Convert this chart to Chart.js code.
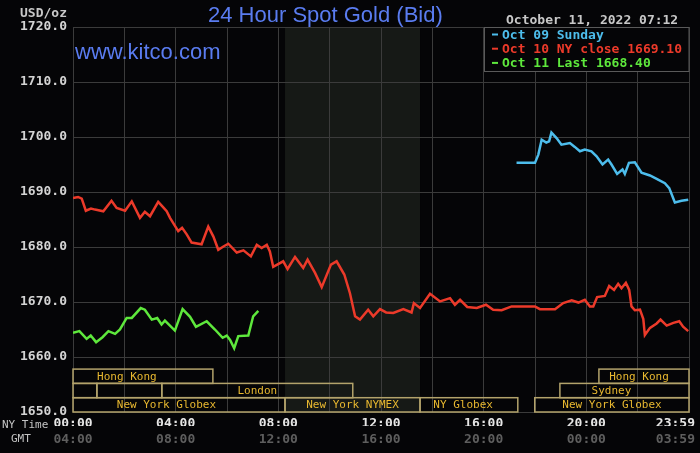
<!DOCTYPE html>
<html>
<head>
<meta charset="utf-8">
<title>24 Hour Spot Gold (Bid)</title>
<script src="https://cdn.jsdelivr.net/npm/chart.js@4.4.0/dist/chart.umd.min.js"></script>
<style>
  html, body { margin: 0; padding: 0; background: #050507; }
  #goldChart { display: block; }
</style>
</head>
<body>
<canvas id="goldChart" width="700" height="453"></canvas>
<script>
// Oct 09 Sunday (NY hours / bid)
const sundayHours = [17.28, 18.0, 18.13, 18.26, 18.44, 18.55, 18.64, 18.84, 19.03, 19.36, 19.55, 19.75, 19.94, 20.2, 20.4, 20.63, 20.85, 20.98, 21.2, 21.41, 21.5, 21.66, 21.89, 22.15, 22.48, 22.74, 23.06, 23.23, 23.45, 23.71, 23.97];
const sundayBids = [1695.3, 1695.3, 1696.8, 1699.5, 1699.0, 1699.2, 1700.8, 1699.8, 1698.6, 1698.9, 1698.2, 1697.4, 1697.7, 1697.4, 1696.5, 1695.0, 1695.9, 1695.0, 1693.3, 1694.1, 1693.3, 1695.3, 1695.4, 1693.5, 1693.0, 1692.4, 1691.6, 1690.7, 1688.1, 1688.4, 1688.6];

// Oct 10 (NY close 1669.10)
const mondayHours = [0, 0.2, 0.34, 0.5, 0.7, 0.86, 1.18, 1.5, 1.7, 2.03, 2.29, 2.61, 2.8, 3.0, 3.32, 3.5, 3.65, 3.78, 4.1, 4.25, 4.43, 4.62, 5.01, 5.27, 5.47, 5.66, 5.86, 6.05, 6.38, 6.64, 6.93, 7.16, 7.35, 7.55, 7.67, 7.8, 8.19, 8.36, 8.65, 8.97, 9.14, 9.43, 9.69, 10.05, 10.27, 10.57, 10.79, 10.99, 11.18, 11.5, 11.7, 11.96, 12.2, 12.48, 12.87, 13.19, 13.28, 13.52, 13.91, 14.3, 14.69, 14.88, 15.08, 15.36, 15.73, 16.09, 16.37, 16.7, 17.09, 18.0, 18.19, 18.78, 19.1, 19.43, 19.69, 19.94, 20.14, 20.27, 20.42, 20.72, 20.89, 21.08, 21.24, 21.37, 21.54, 21.67, 21.76, 21.89, 22.09, 22.22, 22.28, 22.48, 22.74, 22.89, 23.13, 23.39, 23.62, 23.77, 23.97];
const mondayBids = [1688.9, 1689.1, 1688.8, 1686.6, 1687.0, 1686.8, 1686.5, 1688.4, 1687.1, 1686.6, 1688.3, 1685.3, 1686.4, 1685.6, 1688.2, 1687.3, 1686.5, 1685.3, 1682.9, 1683.5, 1682.3, 1680.8, 1680.5, 1683.7, 1681.9, 1679.5, 1680.1, 1680.6, 1679.0, 1679.4, 1678.3, 1680.4, 1679.8, 1680.4, 1679.2, 1676.4, 1677.4, 1676.0, 1678.2, 1676.2, 1677.7, 1675.3, 1672.7, 1676.8, 1677.4, 1675.0, 1671.6, 1667.4, 1666.8, 1668.6, 1667.4, 1668.7, 1668.1, 1668.0, 1668.7, 1668.1, 1669.8, 1668.9, 1671.5, 1670.1, 1670.7, 1669.5, 1670.4, 1669.1, 1668.9, 1669.5, 1668.6, 1668.5, 1669.2, 1669.2, 1668.7, 1668.7, 1669.8, 1670.3, 1669.9, 1670.4, 1669.2, 1669.2, 1670.9, 1671.1, 1672.9, 1672.2, 1673.3, 1672.5, 1673.5, 1672.2, 1669.2, 1668.5, 1668.6, 1666.9, 1664.0, 1665.3, 1666.1, 1666.8, 1665.7, 1666.2, 1666.5, 1665.5, 1664.7];

// Oct 11 (last 1668.40)
const todayHours = [0, 0.25, 0.53, 0.69, 0.9, 1.15, 1.38, 1.64, 1.83, 2.09, 2.29, 2.64, 2.8, 3.07, 3.28, 3.45, 3.58, 3.97, 4.27, 4.56, 4.79, 5.21, 5.53, 5.83, 5.99, 6.12, 6.28, 6.44, 6.83, 7.02, 7.22];
const todayBids = [1664.4, 1664.7, 1663.3, 1663.9, 1662.7, 1663.6, 1664.7, 1664.2, 1665.0, 1667.1, 1667.1, 1668.9, 1668.6, 1666.8, 1667.1, 1665.9, 1666.6, 1664.8, 1668.7, 1667.3, 1665.5, 1666.5, 1665.0, 1663.5, 1663.9, 1663.1, 1661.6, 1663.8, 1663.9, 1667.4, 1668.4];

// Axis ticks
const gridHours = [0, 2, 4, 6, 8, 10, 12, 14, 16, 18, 20, 22, 24];
const priceTicks = [1650, 1660, 1670, 1680, 1690, 1700, 1710, 1720];
const labelHours = [0, 4, 8, 12, 16, 20, 23.47]; // last label pulled in so it fits the frame
const nyTimeLabels = ["00:00", "04:00", "08:00", "12:00", "16:00", "20:00", "23:59"];
const gmtLabels = ["04:00", "08:00", "12:00", "16:00", "20:00", "00:00", "03:59"];

// Trading sessions (NY hours), row 0 is the bottom strip
const sessionNames = ["Hong Kong", "", "", "London", "New York Globex", "New York NYMEX", "NY Globex", "New York Globex", "Sydney", "Hong Kong"];
const sessionStart = [0, 0, 0.93, 3.46, 0, 8.26, 13.52, 17.99, 18.97, 20.49];
const sessionEnd = [5.45, 0.93, 3.46, 10.9, 8.26, 13.52, 17.33, 24, 24, 24];
const sessionRow = [2, 1, 1, 1, 0, 0, 0, 0, 1, 2];
const sessionLabelAt = [2.1, null, null, 7.18, 3.64, 10.89, 15.2, 21.0, 20.98, 22.05];
const pitHours = [8.26, 13.52];

const legendLabels = ["Oct 09 Sunday", "Oct 10 NY close 1669.10", "Oct 11 Last 1668.40"];
const seriesColors = ["#4dbdec", "#ec3a2a", "#5ee83c"];

const MONO = "'DejaVu Sans Mono', monospace";
const GRID = "#3b3b3b";
const BG = "#050507";

function toPoints(hours, bids) {
  return hours.map((h, i) => ({ x: h, y: bids[i] }));
}

function fixedTicks(values) {
  return (scale) => {
    scale.ticks = values.map((v) => ({ value: v }));
  };
}

// Background, pit shading, sessions, legend and free texts
const goldDecor = {
  id: "goldDecor",
  beforeDraw(chart) {
    const { ctx, chartArea: area, scales } = chart;
    ctx.save();
    ctx.fillStyle = BG;
    ctx.fillRect(0, 0, chart.width, chart.height);
    const x0 = scales.x.getPixelForValue(pitHours[0]);
    const x1 = scales.x.getPixelForValue(pitHours[1]);
    ctx.fillStyle = "#161916";
    ctx.fillRect(x0, area.top, x1 - x0, area.bottom - area.top);
    ctx.restore();
  },
  afterDraw(chart) {
    const { ctx, chartArea: area, scales } = chart;
    ctx.save();

    // Session strips
    const rowH = 14.3;
    ctx.strokeStyle = "#b3a36b";
    ctx.lineWidth = 1.5;
    ctx.font = "11px " + MONO;
    ctx.fillStyle = "#e8b830";
    ctx.textAlign = "center";
    ctx.textBaseline = "middle";
    sessionNames.forEach((name, i) => {
      const left = scales.x.getPixelForValue(sessionStart[i]);
      const right = scales.x.getPixelForValue(sessionEnd[i]);
      const bottom = area.bottom - sessionRow[i] * rowH;
      ctx.strokeRect(left, bottom - rowH, right - left, rowH);
      if (name) {
        ctx.fillText(name, scales.x.getPixelForValue(sessionLabelAt[i]), bottom - rowH / 2 + 0.5);
      }
    });

    // Legend box
    const boxW = 205, boxH = 44;
    const boxX = area.right - boxW;
    ctx.fillStyle = BG;
    ctx.fillRect(boxX, area.top, boxW, boxH);
    ctx.strokeStyle = "#5a5a5a";
    ctx.lineWidth = 1;
    ctx.strokeRect(boxX + 0.5, area.top + 0.5, boxW - 0.5, boxH);
    ctx.font = "bold 13px " + MONO;
    ctx.textAlign = "left";
    ctx.textBaseline = "alphabetic";
    legendLabels.forEach((label, i) => {
      const base = area.top + 11.5 + i * 14.2;
      ctx.fillStyle = seriesColors[i];
      ctx.fillRect(boxX + 8, base - 5, 6, 2);
      ctx.fillText(label, boxX + 18, base);
    });

    // Title, site, date and axis captions
    ctx.fillStyle = "#5a7cf0";
    ctx.font = "22px 'Liberation Sans', Arial, sans-serif";
    ctx.fillText("24 Hour Spot Gold (Bid)", 208, 22);
    ctx.fillText("www.kitco.com", 75, 59);

    ctx.fillStyle = "#c8c8c8";
    ctx.font = "bold 13px " + MONO;
    ctx.fillText("October 11, 2022 07:12", 506, 24);
    ctx.textAlign = "right";
    ctx.fillText("USD/oz", 67, 16.5);

    ctx.textAlign = "left";
    ctx.textBaseline = "middle";
    ctx.font = "11px " + MONO;
    ctx.fillStyle = "#c4c4c4";
    ctx.fillText("NY Time", 2, 425);
    ctx.fillText("GMT", 11, 439.5);

    ctx.restore();
  },
};

const datasets = [
  { label: legendLabels[0], data: toPoints(sundayHours, sundayBids), borderColor: seriesColors[0] },
  { label: legendLabels[1], data: toPoints(mondayHours, mondayBids), borderColor: seriesColors[1] },
  { label: legendLabels[2], data: toPoints(todayHours, todayBids), borderColor: seriesColors[2] },
].map((d) => ({ ...d, borderWidth: 2.5, pointRadius: 0, tension: 0, fill: false }));

new Chart(document.getElementById("goldChart").getContext("2d"), {
  type: "line",
  data: { datasets },
  plugins: [goldDecor],
  options: {
    responsive: false,
    animation: false,
    events: [],
    layout: { padding: { left: 0, right: 11, top: 27, bottom: 0 } },
    plugins: { legend: { display: false }, tooltip: { enabled: false } },
    scales: {
      x: {
        type: "linear",
        min: 0,
        max: 24,
        weight: 0,
        afterBuildTicks: fixedTicks(gridHours),
        afterFit: (s) => { s.height = 0; },
        grid: { color: GRID, drawTicks: false },
        border: { color: GRID },
        ticks: { display: false },
      },
      xNY: {
        type: "linear",
        position: "bottom",
        min: 0,
        max: 24,
        weight: 1,
        afterBuildTicks: fixedTicks(labelHours),
        afterFit: (s) => { s.height = 14; },
        grid: { display: false, drawTicks: false },
        border: { display: false },
        ticks: {
          padding: 0,
          maxRotation: 0,
          autoSkip: false,
          color: "#e6e6e6",
          font: { family: MONO, size: 13, weight: "bold", lineHeight: "24px" },
          callback: (v, i) => nyTimeLabels[i],
        },
      },
      xGMT: {
        type: "linear",
        position: "bottom",
        min: 0,
        max: 24,
        weight: 2,
        afterBuildTicks: fixedTicks(labelHours),
        afterFit: (s) => { s.height = 27; },
        grid: { display: false, drawTicks: false },
        border: { display: false },
        ticks: {
          padding: 2,
          maxRotation: 0,
          autoSkip: false,
          color: "#5e5e5e",
          font: { family: MONO, size: 13, weight: "bold", lineHeight: "23px" },
          callback: (v, i) => gmtLabels[i],
        },
      },
      y: {
        min: 1650,
        max: 1720,
        afterBuildTicks: fixedTicks(priceTicks),
        afterFit: (s) => { s.width = 73; },
        grid: { color: GRID, drawTicks: false },
        border: { color: GRID },
        ticks: {
          padding: 6,
          color: "#d4d4d4",
          font: { family: MONO, size: 13, weight: "bold" },
          callback: (v) => v.toFixed(1),
        },
      },
    },
  },
});
</script>
</body>
</html>
